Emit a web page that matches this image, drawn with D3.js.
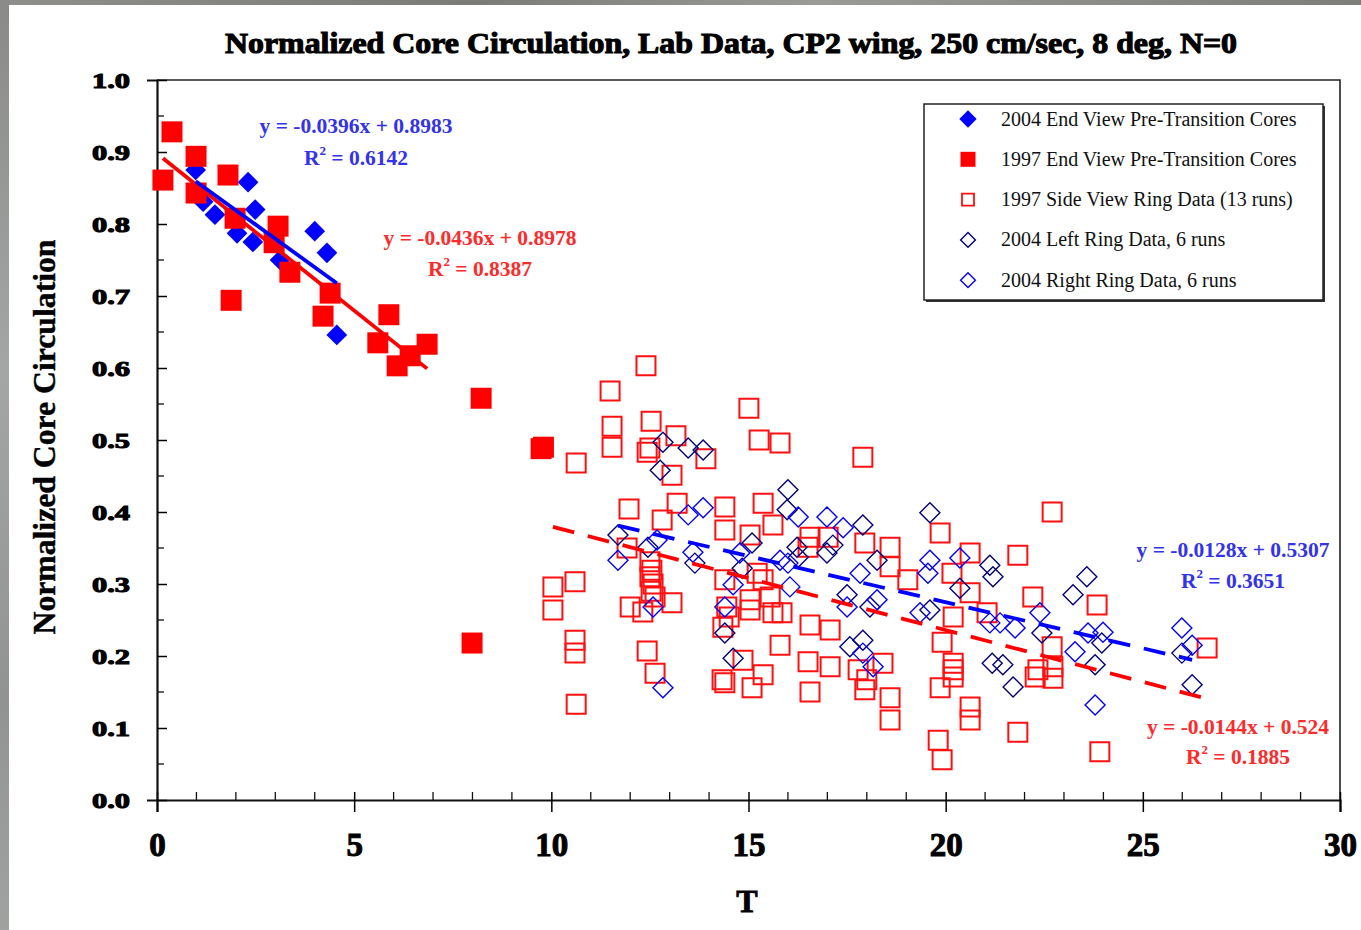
<!DOCTYPE html>
<html><head><meta charset="utf-8">
<script src="https://cdn.jsdelivr.net/npm/d3@7"></script>
<style>
html,body{margin:0;padding:0;background:#fff;}
svg{display:block;}
text{font-family:"Liberation Serif","Times New Roman",serif;}
</style></head><body>
<svg id="chart" width="1361" height="930"></svg>
<script>
// ---------------- data: [T, normalized circulation] ----------------
const endView2004 = [
  [0.98,0.875],[1.17,0.831],[1.47,0.813],[2.03,0.787],[2.31,0.858],[2.49,0.820],
  [2.43,0.775],[3.12,0.750],[4.00,0.790],[4.31,0.760],[4.56,0.646]
];
const endView1997 = [
  [0.15,0.861],[0.38,0.928],[0.99,0.894],[0.99,0.843],[1.80,0.868],[1.88,0.694],
  [1.98,0.808],[2.97,0.774],[3.07,0.797],[3.37,0.733],[4.21,0.672],[4.39,0.704],
  [5.60,0.635],[5.88,0.674],[6.09,0.603],[6.42,0.617],[6.85,0.633]
];
const endView1997Late = [[7.99,0.218],[8.22,0.558],[9.74,0.488],[9.80,0.490]];
const sideView1997 = [
  [10.04,0.296],[10.04,0.264],[10.63,0.468],[10.60,0.303],[10.60,0.222],[10.60,0.204],
  [10.63,0.133],[11.49,0.568],[11.54,0.519],[11.54,0.490],[12.40,0.603],[12.53,0.526],
  [13.16,0.506],[12.43,0.483],[12.50,0.489],[13.06,0.451],[11.97,0.404],[13.19,0.412],
  [12.81,0.389],[11.92,0.350],[12.50,0.331],[12.55,0.319],[12.50,0.310],[12.58,0.300],
  [12.53,0.290],[12.63,0.282],[12.00,0.268],[12.32,0.261],[13.06,0.274],[12.43,0.207],
  [12.63,0.176],[13.92,0.474],[15.01,0.544],[15.27,0.500],[15.80,0.496],[14.40,0.407],
  [14.40,0.375],[15.37,0.412],[15.04,0.368],[15.62,0.382],[15.22,0.315],[15.37,0.306],
  [14.45,0.268],[14.35,0.240],[14.51,0.254],[15.04,0.264],[15.55,0.282],[15.62,0.260],
  [15.85,0.260],[15.80,0.215],[14.86,0.194],[14.40,0.163],[14.33,0.167],[15.09,0.156],
  [15.37,0.174],[16.56,0.365],[17.02,0.365],[16.51,0.351],[17.95,0.357],[18.59,0.351],
  [18.59,0.324],[19.04,0.306],[17.90,0.476],[16.56,0.243],[17.07,0.236],[16.51,0.192],
  [17.07,0.185],[17.78,0.181],[18.41,0.190],[17.95,0.153],[18.00,0.167],[16.56,0.150],
  [18.59,0.142],[18.59,0.111],[19.86,0.371],[20.16,0.315],[20.62,0.343],[21.83,0.340],
  [20.62,0.288],[22.21,0.282],[23.84,0.271],[20.19,0.254],[21.05,0.260],[19.91,0.219],
  [22.70,0.213],[20.19,0.190],[20.19,0.181],[20.19,0.171],[19.86,0.156],[20.62,0.129],
  [20.62,0.111],[22.27,0.171],[22.34,0.181],[22.72,0.185],[22.72,0.169],[26.63,0.211],
  [21.83,0.094],[23.91,0.067],[19.81,0.083],[19.91,0.056],[22.70,0.400],[14.40,0.306],
  [15.04,0.278]
];
const leftRing2004 = [
  [12.83,0.497],[13.47,0.489],[13.85,0.486],[12.76,0.458],[11.69,0.368],[12.45,0.351],
  [13.64,0.329],[15.09,0.357],[14.84,0.322],[14.40,0.232],[14.61,0.197],[16.00,0.431],
  [15.98,0.403],[17.90,0.382],[16.23,0.351],[16.26,0.337],[16.99,0.343],[17.14,0.354],
  [18.26,0.333],[17.50,0.285],[18.08,0.268],[17.57,0.213],[17.90,0.222],[19.60,0.399],
  [20.36,0.294],[19.60,0.264],[21.12,0.326],[21.20,0.310],[23.58,0.310],[23.23,0.285],
  [22.44,0.232],[23.96,0.218],[25.99,0.204],[26.25,0.160],[21.18,0.190],[21.45,0.188],
  [21.71,0.157],[23.79,0.188]
];
const rightRing2004 = [
  [13.47,0.396],[13.85,0.406],[11.69,0.333],[12.68,0.361],[13.59,0.344],[12.58,0.268],
  [12.83,0.156],[14.78,0.343],[14.61,0.299],[14.40,0.268],[16.26,0.393],[16.99,0.393],
  [17.40,0.378],[15.80,0.333],[16.00,0.329],[17.83,0.315],[17.50,0.268],[18.26,0.278],
  [16.05,0.296],[17.90,0.204],[18.16,0.185],[19.60,0.333],[19.55,0.315],[20.36,0.336],
  [19.35,0.260],[21.12,0.246],[21.38,0.246],[21.76,0.239],[22.39,0.260],[23.61,0.232],
  [23.99,0.233],[23.28,0.206],[25.99,0.239],[26.25,0.215],[23.79,0.132]
];

// linear trend fits: end-view 2004, end-view 1997, 2004 rings, 1997 side view
const fitSlopes = [-0.0396, -0.0436, -0.0128, -0.0144];
const fitIntercepts = [0.8983, 0.8978, 0.5307, 0.524];
const fitR2 = [0.6142, 0.8387, 0.3651, 0.1885];

const legendLabels = [
  "2004 End View Pre-Transition Cores",
  "1997 End View Pre-Transition Cores",
  "1997 Side View Ring Data (13 runs)",
  "2004 Left Ring Data, 6 runs",
  "2004 Right Ring Data, 6 runs"
];
const xTicks = [0, 5, 10, 15, 20, 25, 30];
const yTicks = [0, 0.1, 0.2, 0.3, 0.4, 0.5, 0.6, 0.7, 0.8, 0.9, 1.0];
const titleText = "Normalized Core Circulation, Lab Data, CP2 wing, 250 cm/sec, 8 deg, N=0";
const xTitle = "T";
const yTitle = "Normalized Core Circulation";

// ---------------- drawing ----------------
const svg = d3.select("#chart");
const W = 1361, H = 930;

// textured grey surround on the top and left edges
const defs = svg.append("defs");
const g1 = defs.append("linearGradient").attr("id", "greyTop").attr("x1", 0).attr("x2", 1).attr("y1", 0).attr("y2", 0);
g1.append("stop").attr("offset", "0").attr("stop-color", "#8e8f8b");
g1.append("stop").attr("offset", "0.35").attr("stop-color", "#7b7c78");
g1.append("stop").attr("offset", "0.6").attr("stop-color", "#9a9a96");
g1.append("stop").attr("offset", "1").attr("stop-color", "#7d7e7a");
const g2 = defs.append("linearGradient").attr("id", "greyLeft").attr("x1", 0).attr("x2", 0).attr("y1", 0).attr("y2", 1);
g2.append("stop").attr("offset", "0").attr("stop-color", "#8a8b88");
g2.append("stop").attr("offset", "0.4").attr("stop-color", "#a3a6a5");
g2.append("stop").attr("offset", "0.75").attr("stop-color", "#8f9493");
g2.append("stop").attr("offset", "1").attr("stop-color", "#a0a2a0");
svg.append("rect").attr("width", W).attr("height", H).attr("fill", "#fff");
svg.append("rect").attr("x", 0).attr("y", 0).attr("width", W).attr("height", 5).attr("fill", "url(#greyTop)");
svg.append("rect").attr("x", 0).attr("y", 0).attr("width", 9).attr("height", H).attr("fill", "url(#greyLeft)");

const x = d3.scaleLinear().domain([0, 30]).range([157, 1340]);
const y = d3.scaleLinear().domain([0, 1]).range([800, 80]);

// title
svg.append("text")
  .attr("x", 731).attr("y", 53)
  .attr("text-anchor", "middle")
  .attr("font-size", 30).attr("font-weight", "bold")
  .attr("textLength", 1012).attr("lengthAdjust", "spacingAndGlyphs")
  .attr("fill", "#000").attr("stroke", "#000").attr("stroke-width", 1.1)
  .text(titleText);

// plot frame (top and right)
svg.append("path")
  .attr("d", `M${x(0)},${y(1)}H${x(30)}V${y(0)}`)
  .attr("fill", "none").attr("stroke", "#222").attr("stroke-width", 1.6);

// x axis
const xAxis = svg.append("g").attr("transform", `translate(0,${y(0)})`)
  .call(d3.axisBottom(x).tickValues(xTicks).tickFormat(d3.format("d")).tickSize(12).tickPadding(26));
xAxis.select(".domain").attr("stroke", "#111").attr("stroke-width", 2.2);
xAxis.selectAll(".tick line").attr("y1", -8).attr("stroke-width", 1.5);
xAxis.selectAll(".tick text")
  .attr("font-family", "Liberation Serif, serif").attr("font-size", 33).attr("font-weight", "bold")
  .attr("fill", "#000").attr("stroke", "#000").attr("stroke-width", 1).attr("dy", "0.55em");
const xMinor = d3.range(0, 31).filter(v => v % 5 !== 0);
svg.append("g").selectAll("line").data(xMinor).join("line")
  .attr("x1", d => x(d)).attr("x2", d => x(d))
  .attr("y1", y(0)).attr("y2", y(0) - 8)
  .attr("stroke", "#111").attr("stroke-width", 1.3);

// y axis
const yAxis = svg.append("g").attr("transform", `translate(${x(0)},0)`)
  .call(d3.axisLeft(y).tickValues(yTicks).tickFormat(d3.format(".1f")).tickSize(10).tickPadding(17));
yAxis.select(".domain").attr("stroke", "#111").attr("stroke-width", 2.2);
yAxis.selectAll(".tick line").attr("x2", 10).attr("stroke-width", 1.5);
yAxis.selectAll(".tick text")
  .attr("font-family", "Liberation Serif, serif").attr("font-size", 22).attr("font-weight", "bold")
  .attr("textLength", 38).attr("lengthAdjust", "spacingAndGlyphs")
  .attr("fill", "#000").attr("stroke", "#000").attr("stroke-width", 1.1);
const yMinor = d3.range(0.05, 1, 0.1);
svg.append("g").selectAll("line").data(yMinor).join("line")
  .attr("x1", x(0)).attr("x2", x(0) + 7)
  .attr("y1", d => y(d)).attr("y2", d => y(d))
  .attr("stroke", "#111").attr("stroke-width", 1.3);

// axis titles
svg.append("text").attr("x", 747).attr("y", 912)
  .attr("text-anchor", "middle").attr("font-size", 32).attr("font-weight", "bold")
  .attr("stroke", "#000").attr("stroke-width", 0.9).text(xTitle);
svg.append("text")
  .attr("transform", `translate(55,${437}) rotate(-90)`)
  .attr("text-anchor", "middle").attr("font-size", 31).attr("font-weight", "bold")
  .attr("textLength", 395).attr("lengthAdjust", "spacingAndGlyphs")
  .attr("stroke", "#000").attr("stroke-width", 0.4).text(yTitle);

// marker shapes
const rhomb = {
  draw(ctx, size) {
    const r = Math.sqrt(size / 2);
    ctx.moveTo(0, -r); ctx.lineTo(r, 0); ctx.lineTo(0, r); ctx.lineTo(-r, 0); ctx.closePath();
  }
};
const diamondPath = s => d3.symbol().type(rhomb).size(s)();
const squarePath = s => d3.symbol().type(d3.symbolSquare).size(s)();

const marks = svg.append("g");
function plot(data, path, fill, stroke, sw) {
  marks.append("g").selectAll("path").data(data).join("path")
    .attr("transform", d => `translate(${x(d[0])},${y(d[1])})`)
    .attr("d", path)
    .attr("fill", fill).attr("stroke", stroke).attr("stroke-width", sw);
}
plot(endView2004, diamondPath(215), "#0000ff", "none", 0);
plot(endView1997, squarePath(441), "#ff0000", "none", 0);
plot(endView1997Late, squarePath(441), "#ff0000", "none", 0);
plot(sideView1997, squarePath(361), "none", "#ff1010", 2);
plot(leftRing2004, diamondPath(200), "none", "#000080", 1.4);
plot(rightRing2004, diamondPath(200), "none", "#0000ff", 1.4);

// trend lines spanning each series' T range
const ringT = d3.extent(leftRing2004.concat(rightRing2004), d => d[0]);
const spans = [
  d3.extent(endView1997, d => d[0]),
  d3.extent(endView2004, d => d[0]),
  d3.extent(sideView1997, d => d[0]),
  ringT
];
const fitIndex = [1, 0, 3, 2];
const fitColor = ["#0000ff", "#ff0000", "#0000ff", "#ff0000"];
const fitDash = [null, null, "22,14", "22,14"];
fitIndex.forEach((k, i) => {
  const [t0, t1] = spans[i];
  const f = t => fitSlopes[k] * t + fitIntercepts[k];
  svg.append("line")
    .attr("x1", x(t0)).attr("y1", y(f(t0)))
    .attr("x2", x(t1)).attr("y2", y(f(t1)))
    .attr("stroke", fitColor[k]).attr("stroke-width", 3.8)
    .attr("stroke-dasharray", fitDash[k]);
});

// equation labels
const eqPos = [[356, 133, 165], [480, 245, 276], [1233, 557, 588], [1238, 734, 764]];
const eqColor = ["#3232f0", "#ff2a2a", "#3232f0", "#ff2a2a"];
fitSlopes.forEach((m, k) => {
  const [cx, y1, y2] = eqPos[k];
  const g = svg.append("g").attr("fill", eqColor[k]).attr("font-size", 21.5).attr("font-weight", "bold");
  g.append("text").attr("x", cx).attr("y", y1).attr("text-anchor", "middle")
    .text(`y = ${m}x + ${fitIntercepts[k]}`);
  const t = g.append("text").attr("x", cx).attr("y", y2).attr("text-anchor", "middle");
  t.append("tspan").text("R");
  t.append("tspan").attr("dy", -10).attr("font-size", 13).text("2");
  t.append("tspan").attr("dy", 10).text(` = ${fitR2[k]}`);
});

// legend
const lg = svg.append("g");
lg.append("rect").attr("x", 926).attr("y", 106).attr("width", 399).attr("height", 196).attr("fill", "#333");
lg.append("rect").attr("x", 924).attr("y", 104).attr("width", 399).attr("height", 196)
  .attr("fill", "#fff").attr("stroke", "#222").attr("stroke-width", 1.5);
const legendMarks = [
  { d: diamondPath(150), fill: "#0000ff", stroke: "none", sw: 0 },
  { d: squarePath(225), fill: "#ff0000", stroke: "none", sw: 0 },
  { d: squarePath(144), fill: "none", stroke: "#ff1010", sw: 1.8 },
  { d: diamondPath(110), fill: "none", stroke: "#000080", sw: 1.4 },
  { d: diamondPath(110), fill: "none", stroke: "#0000ff", sw: 1.4 }
];
legendLabels.forEach((lab, i) => {
  const cy = 119 + i * 40.3;
  const mk = legendMarks[i];
  lg.append("path").attr("transform", `translate(968,${cy})`).attr("d", mk.d)
    .attr("fill", mk.fill).attr("stroke", mk.stroke).attr("stroke-width", mk.sw);
  lg.append("text").attr("x", 1001).attr("y", cy + 6.5)
    .attr("font-size", 20).attr("fill", "#111").text(lab);
});
</script>
</body></html>
